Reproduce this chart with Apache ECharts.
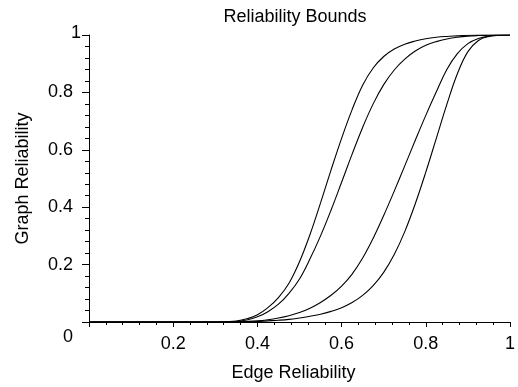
<!DOCTYPE html>
<html>
<head>
<meta charset="utf-8">
<script src="https://cdn.jsdelivr.net/npm/echarts@6/dist/echarts.min.js"></script>
<style>html,body{margin:0;padding:0;background:#fff;}#c{width:518px;height:387px;}</style>
</head>
<body>
<div id="c"></div>
<script>
var titleText = 'Reliability Bounds';
var xName = 'Edge Reliability';
var yName = 'Graph Reliability';
var xTicks = [0, 0.2, 0.4, 0.6, 0.8, 1];
var yTicks = [0, 0.2, 0.4, 0.6, 0.8, 1];

var edgeRel = [0,0.025,0.05,0.075,0.1,0.125,0.15,0.175,0.2,0.225,0.25,0.275,0.3,
  0.325,0.35,0.375,0.4,0.425,0.45,0.475,0.5,0.525,0.55,0.575,0.6,0.625,0.65,0.675,0.7,
  0.725,0.75,0.775,0.8,0.825,0.85,0.875,0.9,0.925,0.95,0.975,1];

var curveA = [0,0,0,0,0,0,0,0,0,0,0,0,0,
  0.001,0.003,0.011,0.025,0.05,0.085,0.135,0.21,0.305,0.415,0.53,0.64,0.74,0.825,0.885,0.925,
  0.951,0.968,0.979,0.987,0.992,0.995,0.997,0.999,1,1,1,1];
var curveB = [0,0,0,0,0,0,0,0,0,0,0,0,0,
  0.0005,0.002,0.007,0.018,0.036,0.062,0.10,0.15,0.22,0.30,0.39,0.487,0.585,0.678,0.76,0.827,
  0.878,0.916,0.944,0.964,0.977,0.986,0.992,0.996,0.998,0.999,1,1];
var curveC = [0,0,0,0,0,0,0,0,0,0,0,0,0,
  0,0.001,0.002,0.004,0.008,0.014,0.022,0.033,0.048,0.068,0.093,0.125,0.167,0.223,0.292,0.371,
  0.456,0.544,0.633,0.72,0.802,0.88,0.935,0.97,0.988,0.996,0.999,1];
var curveD = [0,0,0,0,0,0,0,0,0,0,0,0,0,
  0,0.0005,0.001,0.002,0.004,0.006,0.009,0.014,0.02,0.027,0.037,0.05,0.068,0.093,0.127,0.173,
  0.235,0.315,0.412,0.522,0.64,0.758,0.865,0.942,0.981,0.995,0.999,1];

function pairs(ys) { return edgeRel.map(function (x, i) { return [x, ys[i]]; }); }

var font = '"Liberation Sans", Arial, Helvetica, sans-serif';
function lineSeries(ys) {
  return {
    type: 'line', data: pairs(ys), showSymbol: false, symbol: 'none',
    smooth: 0.4,
    lineStyle: { color: '#000', width: 1.1 }, silent: true, animation: false
  };
}

var chart = echarts.init(document.getElementById('c'), null, { renderer: 'canvas' });
chart.setOption({
  backgroundColor: '#fff',
  animation: false,
  title: {
    text: titleText, left: 290, top: 3, textAlign: 'center',
    textStyle: { fontFamily: font, fontSize: 18, fontWeight: 'normal', color: '#000' }
  },
  grid: { left: 89, right: 2, top: 35, bottom: 64 },
  xAxis: {
    type: 'value', min: xTicks[0], max: xTicks[xTicks.length - 1], interval: 0.2,
    name: xName, nameLocation: 'middle', nameGap: 42,
    nameTextStyle: { fontFamily: font, fontSize: 18, color: '#000', padding: [0, 12, 0, 0] },
    axisLine: { show: true, onZero: false, lineStyle: { color: '#000', width: 1 } },
    axisTick: { show: true, length: 5, lineStyle: { color: '#000' } },
    minorTick: { show: true, splitNumber: 5, length: 3, lineStyle: { color: '#000' } },
    splitLine: { show: false },
    axisLabel: {
      margin: 13, fontFamily: font, fontSize: 18, color: '#000',
      formatter: function (v) { return v === 0 ? '' : String(Math.round(v * 10) / 10); }
    }
  },
  yAxis: {
    type: 'value', min: yTicks[0], max: yTicks[yTicks.length - 1], interval: 0.2,
    name: yName, nameLocation: 'middle', nameGap: 57, nameRotate: 90,
    nameTextStyle: { fontFamily: font, fontSize: 18, color: '#000' },
    axisLine: { show: true, lineStyle: { color: '#000', width: 1 } },
    axisTick: { show: true, length: 7, lineStyle: { color: '#000' } },
    minorTick: { show: true, splitNumber: 5, length: 4, lineStyle: { color: '#000' } },
    splitLine: { show: false },
    axisLabel: {
      margin: 8, fontFamily: font, fontSize: 18, color: '#000',
      formatter: function (v) {
        if (v === 0) { return '{z|0}'; }
        if (v === 1) { return '{o|1}'; }
        return '{n|' + String(Math.round(v * 10) / 10) + '}';
      },
      rich: {
        z: { fontFamily: font, fontSize: 18, color: '#000', padding: [30, 8, 0, 0] },
        n: { fontFamily: font, fontSize: 18, color: '#000', padding: [0, 8, 0, 0] },
        o: { fontFamily: font, fontSize: 18, color: '#000', padding: [0, 0, 4, 0] }
      }
    }
  },
  series: [lineSeries(curveA), lineSeries(curveB), lineSeries(curveC), lineSeries(curveD)]
});
</script>
</body>
</html>
